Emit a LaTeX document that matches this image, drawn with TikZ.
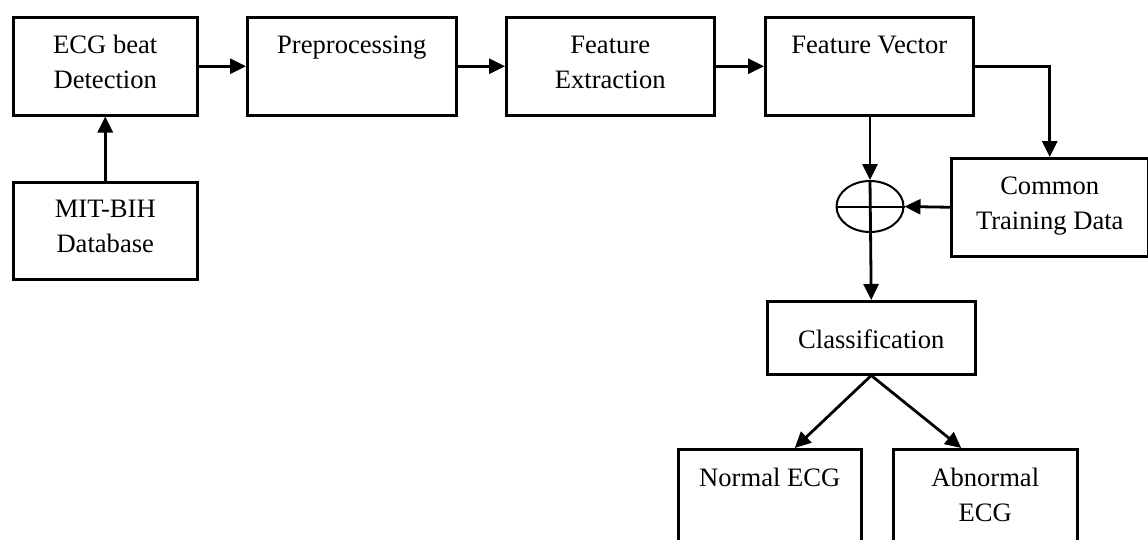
\documentclass[tikz,border=0pt]{standalone}
\usepackage{fontspec}
\setmainfont{Liberation Serif}
\usetikzlibrary{arrows.meta,shapes.geometric}

% box text, top aligned: [first baseline]{width}{height}{text}
\newcommand{\blktxt}[4][36]{\parbox[c][#3pt][t]{#2pt}{\centering\rule{0pt}{#1pt}#4}}

\begin{document}
\begin{tikzpicture}[x=1pt, y=-1pt,
    font=\fontsize{26.6}{35}\selectfont,
    blk/.style={draw, line width=2.5pt, inner sep=0pt, anchor=north west},
    flow/.style={line width=2.8pt, -{Triangle[length=16pt,width=15pt]}}]
  \useasboundingbox (0,0) rectangle (1148,539);
  \clip (0,0) rectangle (1148,539);
  % top row
  \node[blk] (ecg) at (12,16) {\blktxt{184}{98}{ECG beat\\Detection}};
  \node[blk] (pre) at (246,16) {\blktxt{209}{98}{Preprocessing}};
  \node[blk] (fe) at (505,16) {\blktxt{208}{98}{Feature\\Extraction}};
  \node[blk] (fv) at (764,16) {\blktxt{208}{98}{Feature Vector}};
  % database
  \node[blk] (mit) at (12,181) {\blktxt[35]{184}{97}{MIT-BIH\\Database}};
  % training data and summing junction
  \node[blk] (com) at (950,157) {\blktxt{197}{98}{Common\\Training Data}};
  \node[draw, ellipse, line width=2pt, minimum width=67pt, minimum height=51pt,
        inner sep=0pt] (sum) at (870,206.5) {};
  \draw[line width=2pt] (sum.west) -- (sum.east);
  % classification and outputs
  \node[blk] (cls) at (766,300) {\blktxt[47]{208}{73}{Classification}};
  \node[blk] (nrm) at (677,448) {\blktxt[37]{183}{120}{Normal ECG}};
  \node[blk] (abn) at (892,448) {\blktxt[37]{184}{120}{Abnormal\\ECG}};
  % connectors
  \draw[flow] (mit.north) -- (ecg.south);
  \draw[flow] (ecg.east) -- (pre.west);
  \draw[flow] (pre.east) -- (fe.west);
  \draw[flow] (fe.east) -- (fv.west);
  \draw[flow] (fv.east) -| (com.north);
  \draw[flow] (sum |- fv.south) -- (sum.north);
  \draw[flow] (com.west) -- (sum.east);
  \draw[flow] (sum.north) -- (cls.north);
  \draw[flow] (cls.south) -- ([xshift=25pt]nrm.north);
  \draw[flow] (cls.south) -- ([xshift=-24pt]abn.north);
\end{tikzpicture}
\end{document}
